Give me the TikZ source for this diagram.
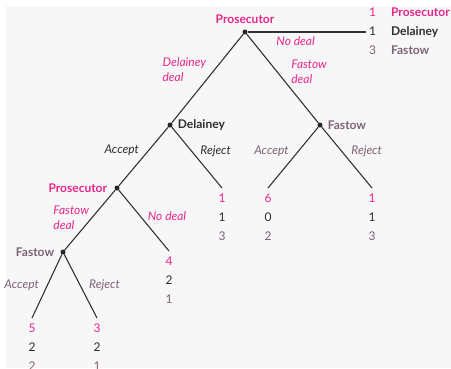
\documentclass[tikz,border=0pt]{standalone}
\usepackage{fontspec}
\setmainfont{Lato}
\usetikzlibrary{positioning}
\definecolor{prosc}{HTML}{E8268C}
\definecolor{delc}{HTML}{2E2E2E}
\definecolor{fasc}{HTML}{7D6276}
\definecolor{bgc}{HTML}{F7F7F7}
\tikzset{
	dot/.style={circle, fill=black!85, inner sep=0pt, minimum size=5pt},
	branch/.style={draw=black!80, line width=1.1pt},
	who/.style={font=\fontsize{12}{14}\selectfont\bfseries, inner sep=0pt},
	move/.style={font=\fontsize{12}{15}\selectfont\itshape, align=left, inner sep=0pt},
	payoff/.style={font=\fontsize{12}{19}\selectfont, align=center, inner sep=0pt}
}
\newcommand{\pay}[3]{\textcolor{prosc}{#1}\\\textcolor{delc}{#2}\\\textcolor{fasc}{#3}}

\begin{document}
\begin{tikzpicture}[x=1pt, y=-1pt]
\useasboundingbox (0,0) rectangle (451,368);
\clip (0,0) rectangle (451,368);
\fill[bgc] (6,6) rectangle (451,368);

% decision nodes
\node[dot] (p1) at (245,32) {};
\node[dot] (d1) at (170,125) {};
\node[dot] (f1) at (320,125) {};
\node[dot] (p2) at (117,188) {};
\node[dot] (f2) at (63,252) {};

\node[who, prosc, above=5.5pt of p1] (p1l) {Prosecutor};
\node[who, delc, right=5pt of d1] (d1l) {Delainey};
\node[who, fasc, right=5pt of f1] (f1l) {Fastow};
\node[who, prosc, left=7pt of p2] (p2l) {Prosecutor};
\node[who, fasc, left=6pt of f2] (f2l) {Fastow};

% end points
\coordinate (nd) at (366,32);
\coordinate (f1a) at (268,188);
\coordinate (f1r) at (372,188);
\coordinate (d1r) at (222,188);
\coordinate (p2n) at (169,251);
\coordinate (f2a) at (32,318);
\coordinate (f2r) at (97,318);

% branches
\draw[branch] (p1) -- node[move, prosc, pos=0.4, left=8pt] {Delainey\\deal} (d1);
\draw[branch] (p1) -- node[move, prosc, pos=0.42, right=14pt] {Fastow\\deal} (f1);
\draw[branch] (p1) -- node[move, prosc, pos=0.405, below=4pt] {No deal} (nd);
\draw[branch] (d1) -- node[move, delc, pos=0.4, left=9pt] {Accept} (p2);
\draw[branch] (d1) -- node[move, delc, pos=0.4, right=8pt] {Reject} (d1r);
\draw[branch] (f1) -- node[move, fasc, pos=0.4, left=9pt] {Accept} (f1a);
\draw[branch] (f1) -- node[move, fasc, pos=0.4, right=9pt] {Reject} (f1r);
\draw[branch] (p2) -- node[move, prosc, pos=0.47, left=2pt] {Fastow\\deal} (f2);
\draw[branch] (p2) -- node[move, prosc, pos=0.42, right=7.5pt] {No deal} (p2n);
\draw[branch] (f2) -- node[move, fasc, pos=0.485, left=8pt] {Accept} (f2a);
\draw[branch] (f2) -- node[move, fasc, pos=0.485, right=8.5pt] {Reject} (f2r);

% payoffs
\node[payoff, anchor=west, right=3pt of nd] (ndp) {\begin{tabular}{@{}c@{\hspace{15pt}}l@{}}
\textcolor{prosc}{1} & \textcolor{prosc}{\bfseries Prosecutor} \\
\textcolor{delc}{1} & \textcolor{delc}{\bfseries Delainey} \\
\textcolor{fasc}{3} & \textcolor{fasc}{\bfseries Fastow}
\end{tabular}};
\node[payoff, below=6pt of f1a] (f1ap) {\pay{6}{0}{2}};
\node[payoff, below=6pt of f1r] (f1rp) {\pay{1}{1}{3}};
\node[payoff, below=6pt of d1r] (d1rp) {\pay{1}{1}{3}};
\node[payoff, below=6pt of p2n] (p2np) {\pay{4}{2}{1}};
\node[payoff, below=6pt of f2a] (f2ap) {\pay{5}{2}{2}};
\node[payoff, below=6pt of f2r] (f2rp) {\pay{3}{2}{1}};
\end{tikzpicture}
\end{document}
